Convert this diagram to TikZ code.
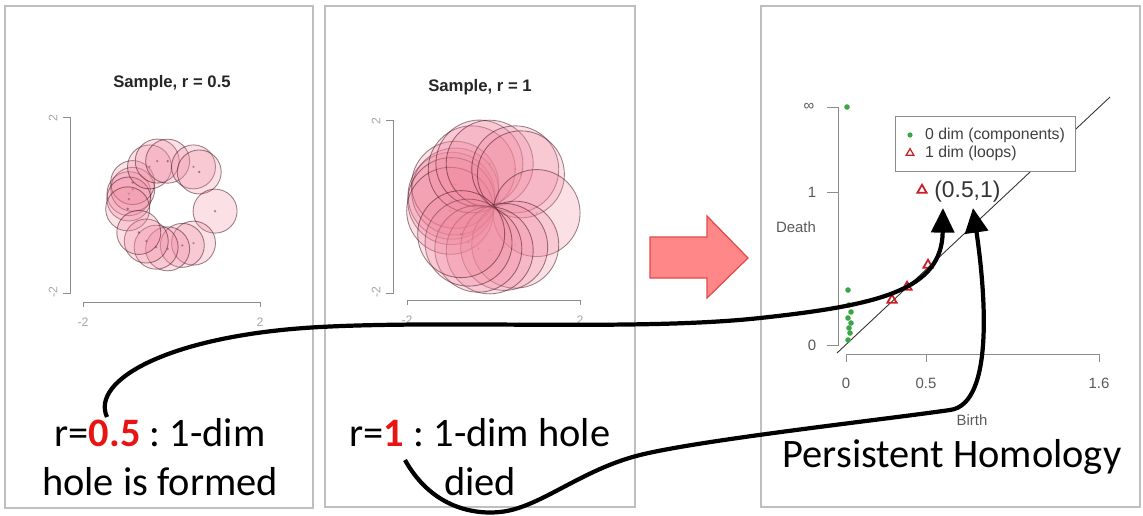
\documentclass[tikz,border=0pt]{standalone}
\usepackage{fontspec}
\setmainfont{Carlito}
\newfontfamily\plotfont{Liberation Sans}
\usetikzlibrary{arrows.meta,shapes.geometric}
\definecolor{ballfill}{RGB}{240,135,158}
\definecolor{balledge}{RGB}{60,15,25}
\definecolor{dotgreen}{RGB}{60,165,70}
\definecolor{trired}{RGB}{205,30,40}
\definecolor{arrowfill}{RGB}{255,135,135}
\definecolor{arrowedge}{RGB}{225,75,75}
\definecolor{hired}{RGB}{232,20,20}
\frenchspacing

\begin{document}
\begin{tikzpicture}[x=0.02cm,y=-0.02cm]
\useasboundingbox (0,0) rectangle (1143,515);

% 1. Koordinaten
\coordinate (c1) at (171.5,205);
\coordinate (c2) at (493.5,207);
\coordinate (from1) at (107,417);
\coordinate (from2) at (405,460);
\coordinate (to1) at (943,208);
\coordinate (to2) at (973,208);

% 2. Stile
\tikzset{
  panel/.style={draw=black!25, line width=0.6pt},
  plot axis/.style={draw=black!45, line width=0.5pt},
  ball/.style={fill=ballfill, fill opacity=0.26, draw=balledge, draw opacity=0.5, line width=0.5pt},
  plot title/.style={font=\plotfont\bfseries\fontsize{9.5}{11}\selectfont, text=black!85},
  tick lbl/.style={font=\plotfont\fontsize{8.5}{10}\selectfont, text=black!65},
  faint lbl/.style={font=\plotfont\fontsize{7}{8}\selectfont, text=black!35},
  big text/.style={font=\fontsize{23}{27.8}\selectfont, align=center, inner sep=0pt},
  tri mark/.style={regular polygon, regular polygon sides=3, draw=trired, line width=1pt, inner sep=0pt, minimum size=6pt},
  link/.style={line width=2.4pt, -{Triangle[length=14pt,width=13pt]}}
}

% 3. Rahmen
\draw[panel] (5,6) rectangle (313,508);
\draw[panel] (325,6) rectangle (635,507);
\draw[panel] (761,6) rectangle (1140,507);

% 4. Baelle
\foreach \a/\d in {-165/1.0,-158/0.95,-150/1.02,-172/0.98,-185/1.0,-120/1.0,-108/1.05,-95/1.0,-60/1.0,-50/0.98,8/1.0,60/1.0,75/0.95,95/1.0,110/1.02,125/1.0,140/0.97}{
  \filldraw[ball] (c1) ++(\a:{44*\d}) circle (22);
  \fill[balledge, opacity=0.45] (c1) ++(\a:{44*\d}) circle (1.3);
  \filldraw[ball] (c2) ++(\a:{43.5*\d}) circle (43.5);
  \fill[balledge, opacity=0.15] (c2) ++(\a:{43.5*\d}) circle (1.3);
}

\node[plot title] (h1) at (172,83) {Sample, r = 0.5};
\draw[plot axis] (63,117) -- (70,117) -- (70,293) -- (63,293);
\draw[plot axis] (83,307) -- (83,302) -- (260,302) -- (260,307);
\node[faint lbl, rotate=90] (y1a) at (53,118) {2};
\node[faint lbl, rotate=90] (y1b) at (53,292) {-2};
\node[faint lbl] (x1a) at (83,322) {-2};
\node[faint lbl] (x1b) at (260,322) {2};

\node[plot title] (h2) at (480,87) {Sample, r = 1};
\draw[plot axis] (386,120) -- (393,120) -- (393,293) -- (386,293);
\draw[plot axis] (407,305) -- (407,300) -- (580,300) -- (580,305);
\node[faint lbl, rotate=90] (y2a) at (376,121) {2};
\node[faint lbl, rotate=90] (y2b) at (376,292) {-2};
\node[faint lbl] (x2a) at (407,320) {-2};
\node[faint lbl] (x2b) at (580,320) {2};

% 5. Pfeil
\filldraw[fill=arrowfill, draw=arrowedge, line width=0.7pt]
  (650,237) -- (707,237) -- (707,216) -- (748,258) -- (707,298) -- (707,278) -- (650,278) -- cycle;

% 6. Persistenzdiagramm
\draw[plot axis] (827,107) -- (838,107) -- (838,345) -- (827,345);
\draw[plot axis] (827,192) -- (838,192);
\draw[plot axis] (846,362) -- (846,354) -- (1099,354) -- (1099,362);
\draw[plot axis] (926,354) -- (926,362);
\node[tick lbl] (yinf) at (809,107) {∞};
\node[tick lbl] (yone) at (812,192) {1};
\node[tick lbl] (yzero) at (812,345) {0};
\node[tick lbl] (xzero) at (846,383) {0};
\node[tick lbl] (xhalf) at (926,383) {0.5};
\node[tick lbl] (xmax) at (1099,383) {1.6};
\node[tick lbl] (death) at (796,227) {Death};
\node[tick lbl] (birth) at (972,420) {Birth};

\draw[black!80, line width=0.5pt] (837,353) -- (1110,97);
\draw[plot axis, fill=white] (895,116) rectangle (1075,171);
\fill[dotgreen] (910,135) circle (2.6);
\node[tri mark, minimum size=5pt, line width=0.7pt] (lgtri) at (910,153) {};
\node[tick lbl, text=black!75, font=\plotfont\fontsize{9}{10}\selectfont, anchor=west] (lg0) at (919,135) {0 dim (components)};
\node[tick lbl, text=black!75, font=\plotfont\fontsize{9}{10}\selectfont, anchor=west] (lg1) at (919,153) {1 dim (loops)};

\foreach \py/\px in {107/847,290/848,305/849,312/851,318/848,323/851,328/849,333/850,340/848}{
  \fill[dotgreen] (\px,\py) circle (2.8);
}
\node[tri mark] (t1) at (892,300) {};
\node[tri mark] (t2) at (907,287) {};
\node[tri mark] (t3) at (928,265) {};
\node[tri mark] (t4) at (922,190) {};
\node[font=\plotfont\fontsize{13}{15}\selectfont, text=black!80, anchor=west, inner sep=0pt] (pt) at (934,192) {(0.5,1)};

% 7. Texte
\node[big text] (s1) at (160,457) {r=\textcolor{hired}{\textbf{0.5}} : 1-dim\\hole is formed};
\node[big text] (s2) at (480,457) {r=\textcolor{hired}{\textbf{1}} : 1-dim hole\\died};
\node[big text] (s3) at (952,457) {Persistent Homology};

% 8. Verbindungen
\draw[link] (from1) .. controls (90,380) and (170,335) .. (320,327)
  .. controls (450,320) and (640,331) .. (760,318)
  .. controls (880,305) and (942,290) .. (to1);
\draw[link] (from2) .. controls (430,505) and (470,515) .. (500,512)
  .. controls (540,508) and (580,470) .. (640,455)
  .. controls (700,440) and (880,420) .. (950,410)
  .. controls (995,404) and (985,290) .. (to2);

\end{tikzpicture}
\end{document}
